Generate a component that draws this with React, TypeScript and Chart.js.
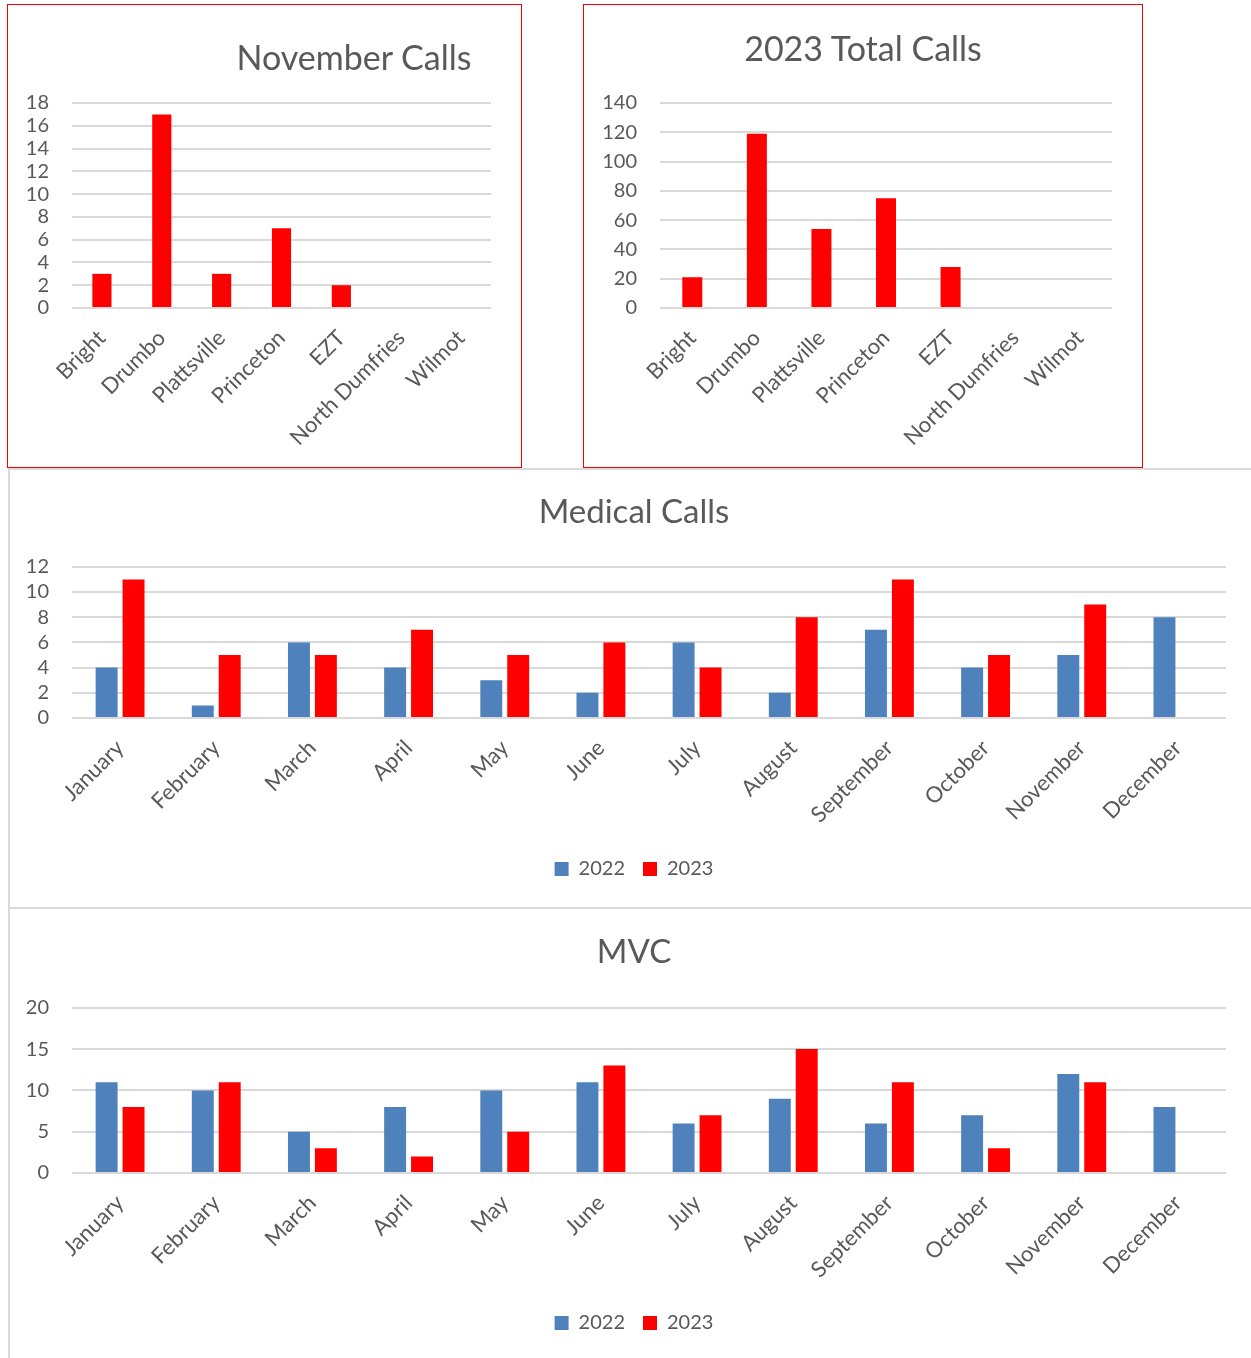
import React, { useEffect, useRef } from "react";
import { Chart, registerables } from "chart.js";

Chart.register(...registerables);

// ---------- data ----------
const towns = ["Bright", "Drumbo", "Plattsville", "Princeton", "EZT", "North Dumfries", "Wilmot"];
const novemberCalls = [3, 17, 3, 7, 2, 0, 0];
const totalCalls2023 = [21, 119, 54, 75, 28, 0, 0];

const months = [
  "January", "February", "March", "April", "May", "June",
  "July", "August", "September", "October", "November", "December",
];
const seriesLabels = ["2022", "2023"];
const medical2022 = [4, 1, 6, 4, 3, 2, 6, 2, 7, 4, 5, 8];
const medical2023 = [11, 5, 5, 7, 5, 6, 4, 8, 11, 5, 9, null];
const mvc2022 = [11, 10, 5, 8, 10, 11, 6, 9, 6, 7, 12, 8];
const mvc2023 = [8, 11, 3, 2, 5, 13, 7, 15, 11, 3, 11, null];

const titles = ["November Calls", "2023 Total Calls", "Medical Calls", "MVC"];

// ---------- styles ----------
const FONT = "Lato";
const TEXT = "#595959";
const GRID = "#d9d9d9";
const RED = "#ff0000";
const BLUE = "#4f81bd";

Chart.defaults.font.family = FONT;
Chart.defaults.color = TEXT;

function ChartBox(props: { left: number; top: number; width: number; height: number; makeConfig: () => any }) {
  const ref = useRef<HTMLCanvasElement | null>(null);
  useEffect(() => {
    const chart = new Chart(ref.current as HTMLCanvasElement, props.makeConfig());
    return () => chart.destroy();
  }, []);
  return (
    <div style={{ position: "absolute", left: props.left, top: props.top, width: props.width, height: props.height }}>
      <canvas ref={ref} />
    </div>
  );
}

function townConfig(values: number[], max: number, step: number, yWidth: number, padRight: number, barPct: number) {
  return () => ({
    type: "bar",
    data: {
      labels: towns,
      datasets: [{ data: values, backgroundColor: RED, borderWidth: 0, categoryPercentage: 1, barPercentage: barPct }],
    },
    options: {
      responsive: true,
      maintainAspectRatio: false,
      animation: false,
      layout: { padding: { top: 97, right: padRight, left: 0, bottom: 0 } },
      plugins: { legend: { display: false }, title: { display: false }, tooltip: { enabled: false } },
      scales: {
        x: {
          grid: { display: false },
          border: { display: false },
          ticks: { autoSkip: false, minRotation: 45, maxRotation: 45, font: { size: 22 }, color: TEXT, padding: 9 },
          afterFit: (s: any) => { s.height = 158; },
        },
        y: {
          min: 0,
          max,
          ticks: { autoSkip: false, stepSize: step, padding: 23, font: { size: 20 }, color: TEXT },
          grid: { color: GRID, lineWidth: 2, drawTicks: false },
          border: { display: false },
          afterFit: (s: any) => { s.width = yWidth; },
        },
      },
    },
  });
}

function monthConfig(title: string, a: (number | null)[], b: (number | null)[], max: number, step: number,
  titlePadBottom: number, xHeight: number, padBottom: number) {
  return () => ({
    type: "bar",
    data: {
      labels: months,
      datasets: [
        { label: seriesLabels[0], data: a, backgroundColor: BLUE, borderWidth: 0, categoryPercentage: 0.56, barPercentage: 0.815 },
        { label: seriesLabels[1], data: b, backgroundColor: RED, borderWidth: 0, categoryPercentage: 0.56, barPercentage: 0.815 },
      ],
    },
    options: {
      responsive: true,
      maintainAspectRatio: false,
      animation: false,
      layout: { padding: { top: 0, right: 1, left: 0, bottom: padBottom } },
      plugins: {
        tooltip: { enabled: false },
        title: {
          display: true,
          text: title,
          color: TEXT,
          font: { size: 33, weight: "normal", family: FONT },
          padding: { top: 22.2, bottom: titlePadBottom },
        },
        legend: {
          display: true,
          position: "bottom",
          labels: { boxWidth: 14, boxHeight: 14, padding: 18, color: TEXT, font: { size: 20 } },
        },
      },
      scales: {
        x: {
          grid: { display: false },
          border: { display: false },
          ticks: { autoSkip: false, minRotation: 45, maxRotation: 45, font: { size: 22 }, color: TEXT, padding: 9 },
          afterFit: (s: any) => { s.height = xHeight; },
        },
        y: {
          min: 0,
          max,
          ticks: { autoSkip: false, stepSize: step, padding: 23, font: { size: 20 }, color: TEXT },
          grid: { color: GRID, lineWidth: 2, drawTicks: false },
          border: { display: false },
          afterFit: (s: any) => { s.width = 63; },
        },
        // blank right-hand spacer axis, keeps title and legend centred like the original
        spacer: {
          type: "linear",
          position: "right",
          display: true,
          grid: { display: false, drawTicks: false },
          border: { display: false },
          ticks: { display: false },
          afterFit: (s: any) => { s.width = 33; },
        },
      },
    },
  });
}

const titleStyle = (cx: number, cy: number): React.CSSProperties => ({
  position: "absolute",
  left: cx - 200,
  top: cy - 20,
  width: 400,
  height: 40,
  lineHeight: "40px",
  textAlign: "center",
  fontFamily: FONT,
  fontSize: 34,
  color: TEXT,
  whiteSpace: "nowrap",
});

export default function App() {
  return (
    <div style={{ position: "absolute", left: 0, top: 0, width: 1251, height: 1358, background: "#fff", overflow: "hidden" }}>
      {/* separators */}
      <div style={{ position: "absolute", left: 8, top: 468, width: 1243, height: 2, background: GRID }} />
      <div style={{ position: "absolute", left: 8, top: 907, width: 1243, height: 2, background: GRID }} />
      <div style={{ position: "absolute", left: 8, top: 468, width: 1.5, height: 890, background: GRID }} />

      {/* top-left */}
      <div style={{ position: "absolute", left: 7, top: 4, width: 515, height: 464, border: `1.5px solid ${RED}`, boxSizing: "border-box" }} />
      <ChartBox left={9} top={6} width={511} height={460} makeConfig={townConfig(novemberCalls, 18, 2, 63, 29, 0.32)} />
      <div style={titleStyle(354, 57)}>{titles[0]}</div>

      {/* top-right */}
      <div style={{ position: "absolute", left: 583, top: 4, width: 560, height: 464, border: `1.5px solid ${RED}`, boxSizing: "border-box" }} />
      <ChartBox left={585} top={6} width={556} height={460} makeConfig={townConfig(totalCalls2023, 140, 20, 75, 29, 0.31)} />
      <div style={titleStyle(863, 48)}>{titles[1]}</div>

      {/* medical */}
      <ChartBox left={9} top={470} width={1251} height={437}
        makeConfig={monthConfig(titles[2], medical2022, medical2023, 12, 2, 35, 123, 18)} />

      {/* MVC */}
      <ChartBox left={9} top={910} width={1251} height={448}
        makeConfig={monthConfig(titles[3], mvc2022, mvc2023, 20, 5, 36, 122, 15)} />
    </div>
  );
}
